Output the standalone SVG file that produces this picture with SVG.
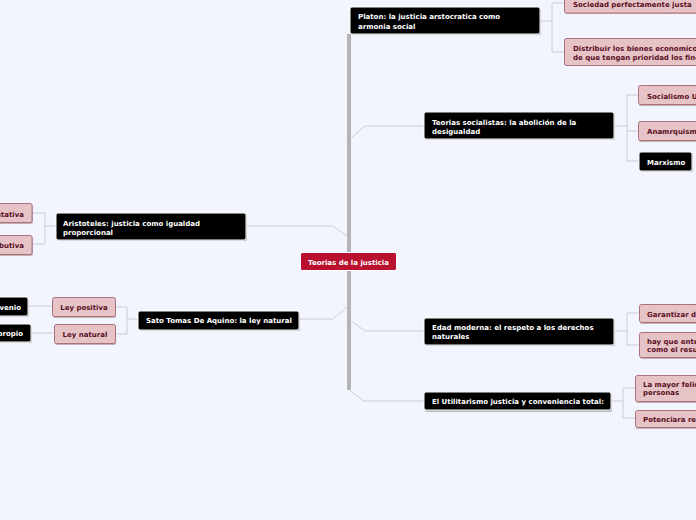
<svg xmlns="http://www.w3.org/2000/svg" width="696" height="520" viewBox="0 0 696 520">
<defs>
<style>
.bg{fill:#f3f5fe}
.c{fill:none;stroke:#c9ccd4;stroke-width:1}
.trunk{fill:none;stroke:#b4b4b6;stroke-width:4}
.blk{fill:#000;stroke:#ffffff;stroke-width:1}
.shb{fill:#8c8c90;opacity:0.6}
.pk{fill:#e6c3c7;stroke:#a9737c;stroke-width:1}
.shp{fill:#b48e95;opacity:0.7}
.ctr{fill:#b8102e;stroke:#ffffff;stroke-width:1}
text{font-family:"DejaVu Sans",Verdana,sans-serif;font-size:7px;font-weight:bold}
.tw{fill:#ffffff}
.tp{fill:#5a0f1f}
</style>
</defs>
<rect class="bg" x="0" y="0" width="696" height="520"/>

<g id="connectors">
  <path class="trunk" d="M349,34 V390"/>
  <path class="c" d="M350,139 L365,126 H424"/>
  <path class="c" d="M246,226 H333 L348,237"/>
  <path class="c" d="M299,319 H333 L348,306"/>
  <path class="c" d="M350,320 L365,331 H424"/>
  <path class="c" d="M349,390 L364,401 H424"/>
  <path class="c" d="M540,21 H552 M552,3 V52 M552,3 H564 M552,52 H564"/>
  <path class="c" d="M614,126 H627 M627,95 V161 M627,95 H638 M627,131 H638 M627,161 H639"/>
  <path class="c" d="M56,226 H45 M45,213 V244 M45,213 H32 M45,244 H32"/>
  <path class="c" d="M138,319 H127 M127,307 V334 M127,307 H115 M127,334 H115"/>
  <path class="c" d="M52,306 H28 M54,333 H31"/>
  <path class="c" d="M614,331 H627 M627,313 V345 M627,313 H639 M627,345 H639"/>
  <path class="c" d="M611,401 H623 M623,388 V418 M623,388 H635 M623,418 H635"/>
</g>

<g id="center">
  <rect class="ctr" x="300.5" y="252.5" width="96" height="18" rx="2"/>
  <text class="tw" x="348.5" y="264.5" text-anchor="middle">Teorias de la justicia</text>
</g>

<g id="platon">
  <rect class="shb" x="351" y="8" width="190" height="27" rx="2"/>
  <rect class="blk" x="350" y="7" width="190" height="27" rx="2"/>
  <text class="tw" x="358" y="19">Platon: la justicia arstocratica como</text>
  <text class="tw" x="358" y="29">armonia social</text>
</g>
<g id="sociedad">
  <rect class="shp" x="565" y="-5" width="140" height="19" rx="2"/>
  <rect class="pk" x="564.5" y="-6" width="140" height="19" rx="2"/>
  <text class="tp" x="573" y="6.5">Sociedad perfectamente justa</text>
</g>
<g id="distribuir">
  <rect class="shp" x="565" y="39" width="140" height="27" rx="2"/>
  <rect class="pk" x="564.5" y="38.5" width="140" height="27" rx="2"/>
  <text class="tp" x="573" y="50.5">Distribuir los bienes economicos</text>
  <text class="tp" x="573" y="59.5">de que tengan prioridad los fines</text>
</g>

<g id="socialistas">
  <rect class="shb" x="425" y="113" width="190" height="27" rx="2"/>
  <rect class="blk" x="424" y="112" width="190" height="27" rx="2"/>
  <text class="tw" x="432" y="124.5">Teorias socialistas: la abolición de la</text>
  <text class="tw" x="432" y="133.5">desigualdad</text>
</g>
<g id="socialismo">
  <rect class="shp" x="639" y="86" width="70" height="20" rx="2"/>
  <rect class="pk" x="638.5" y="85.5" width="70" height="19" rx="2"/>
  <text class="tp" x="647" y="98.5">Socialismo U</text>
</g>
<g id="anarquismo">
  <rect class="shp" x="639" y="122" width="70" height="20" rx="2"/>
  <rect class="pk" x="638.5" y="121.5" width="70" height="19" rx="2"/>
  <text class="tp" x="647" y="133.5">Anamrquism</text>
</g>
<g id="marxismo">
  <rect class="shb" x="640" y="153" width="53" height="19" rx="2"/>
  <rect class="blk" x="639" y="152" width="53" height="19" rx="2"/>
  <text class="tw" x="647" y="164.5">Marxismo</text>
</g>

<g id="aristoteles">
  <rect class="shb" x="57" y="214" width="190" height="27" rx="2"/>
  <rect class="blk" x="56" y="213" width="190" height="27" rx="2"/>
  <text class="tw" x="63" y="225.5">Aristoteles: justicia como igualdad</text>
  <text class="tw" x="63" y="234.5">proporcional</text>
</g>
<g id="conmutativa">
  <rect class="shp" x="-9" y="204" width="42" height="20" rx="2"/>
  <rect class="pk" x="-10" y="203.5" width="42" height="19" rx="2"/>
  <text class="tp" x="24" y="216.5" text-anchor="end">utativa</text>
</g>
<g id="distributiva">
  <rect class="shp" x="-9" y="236" width="42" height="20" rx="2"/>
  <rect class="pk" x="-10" y="235.5" width="42" height="19" rx="2"/>
  <text class="tp" x="24" y="247.5" text-anchor="end">butiva</text>
</g>

<g id="tomas">
  <rect class="shb" x="139" y="312" width="161" height="19" rx="2"/>
  <rect class="blk" x="138" y="311" width="161" height="19" rx="2"/>
  <text class="tw" x="146" y="322.5">Sato Tomas De Aquino: la ley natural</text>
</g>
<g id="leypositiva">
  <rect class="shp" x="53" y="298" width="63" height="20" rx="2"/>
  <rect class="pk" x="52.5" y="297.5" width="63" height="19" rx="2"/>
  <text class="tp" x="84" y="310" text-anchor="middle">Ley positiva</text>
</g>
<g id="leynatural">
  <rect class="shp" x="55" y="325" width="61" height="20" rx="2"/>
  <rect class="pk" x="54.5" y="324.5" width="61" height="19" rx="2"/>
  <text class="tp" x="85" y="336.5" text-anchor="middle">Ley natural</text>
</g>
<g id="convenio">
  <rect class="shb" x="-9" y="298" width="38" height="19" rx="2"/>
  <rect class="blk" x="-10" y="297" width="38" height="19" rx="2"/>
  <text class="tw" x="21" y="309.5" text-anchor="end">venio</text>
</g>
<g id="propio">
  <rect class="shb" x="-9" y="325" width="41" height="18" rx="2"/>
  <rect class="blk" x="-10" y="324" width="41" height="18" rx="2"/>
  <text class="tw" x="23" y="335.5" text-anchor="end">propio</text>
</g>

<g id="moderna">
  <rect class="shb" x="425" y="319" width="190" height="27" rx="2"/>
  <rect class="blk" x="424" y="318" width="190" height="27" rx="2"/>
  <text class="tw" x="432" y="329.5">Edad moderna: el respeto a los derechos</text>
  <text class="tw" x="432" y="339">naturales</text>
</g>
<g id="garantizar">
  <rect class="shp" x="640" y="305" width="70" height="19" rx="2"/>
  <rect class="pk" x="639.5" y="304.5" width="70" height="18" rx="2"/>
  <text class="tp" x="647" y="316.5">Garantizar d</text>
</g>
<g id="hayque">
  <rect class="shp" x="640" y="333" width="70" height="26" rx="2"/>
  <rect class="pk" x="639.5" y="332.5" width="70" height="25" rx="2"/>
  <text class="tp" x="647" y="343.5">hay que ente</text>
  <text class="tp" x="647" y="351.5">como el resu</text>
</g>

<g id="utilitarismo">
  <rect class="shb" x="425" y="393" width="187" height="19" rx="2"/>
  <rect class="blk" x="424" y="392" width="187" height="18" rx="2"/>
  <text class="tw" x="432" y="403.5">El Utilitarismo justicia y conveniencia total:</text>
</g>
<g id="felicidad">
  <rect class="shp" x="636" y="376" width="70" height="27" rx="2"/>
  <rect class="pk" x="635.5" y="375.5" width="70" height="26" rx="2"/>
  <text class="tp" x="643" y="386.5">La mayor felic</text>
  <text class="tp" x="643" y="394.5">personas</text>
</g>
<g id="potenciara">
  <rect class="shp" x="636" y="411" width="70" height="18" rx="2"/>
  <rect class="pk" x="635.5" y="410.5" width="70" height="17" rx="2"/>
  <text class="tp" x="643" y="421.5">Potenciara re</text>
</g>
</svg>
